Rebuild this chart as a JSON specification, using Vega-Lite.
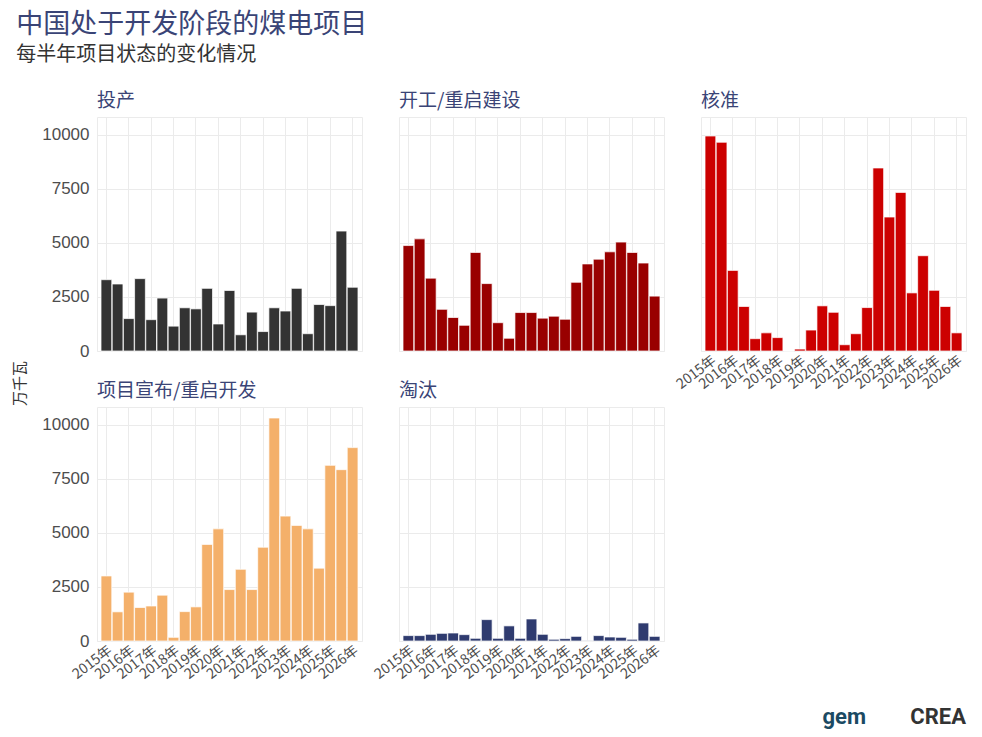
{
  "$schema": "https://vega.github.io/schema/vega-lite/v6.json",
  "description": "China coal power projects in development, half-yearly status changes",
  "padding": {"left": 12, "top": 10, "right": 16, "bottom": 4},
  "background": "white",
  "title": {
    "text": "中国处于开发阶段的煤电项目",
    "subtitle": "每半年项目状态的变化情况",
    "anchor": "start",
    "frame": "bounds",
    "dx": 4,
    "font": "Noto Sans CJK SC",
    "fontSize": 27,
    "fontWeight": "normal",
    "color": "#3a4476",
    "subtitleFont": "Noto Sans CJK SC",
    "subtitleFontSize": 20,
    "subtitleColor": "#333333",
    "subtitlePadding": 6,
    "offset": 26
  },
  "data": {
    "values": [
      {"period": "2015-H1", "status": "投产", "value": 3300},
      {"period": "2015-H2", "status": "投产", "value": 3100},
      {"period": "2016-H1", "status": "投产", "value": 1500},
      {"period": "2016-H2", "status": "投产", "value": 3350},
      {"period": "2017-H1", "status": "投产", "value": 1450},
      {"period": "2017-H2", "status": "投产", "value": 2450},
      {"period": "2018-H1", "status": "投产", "value": 1150},
      {"period": "2018-H2", "status": "投产", "value": 2000},
      {"period": "2019-H1", "status": "投产", "value": 1950},
      {"period": "2019-H2", "status": "投产", "value": 2900},
      {"period": "2020-H1", "status": "投产", "value": 1250},
      {"period": "2020-H2", "status": "投产", "value": 2800},
      {"period": "2021-H1", "status": "投产", "value": 750},
      {"period": "2021-H2", "status": "投产", "value": 1800},
      {"period": "2022-H1", "status": "投产", "value": 900},
      {"period": "2022-H2", "status": "投产", "value": 2000},
      {"period": "2023-H1", "status": "投产", "value": 1850},
      {"period": "2023-H2", "status": "投产", "value": 2900},
      {"period": "2024-H1", "status": "投产", "value": 800},
      {"period": "2024-H2", "status": "投产", "value": 2150},
      {"period": "2025-H1", "status": "投产", "value": 2100},
      {"period": "2025-H2", "status": "投产", "value": 5550},
      {"period": "2026-H1", "status": "投产", "value": 2950},

      {"period": "2015-H1", "status": "开工/重启建设", "value": 4880},
      {"period": "2015-H2", "status": "开工/重启建设", "value": 5190},
      {"period": "2016-H1", "status": "开工/重启建设", "value": 3370},
      {"period": "2016-H2", "status": "开工/重启建设", "value": 1930},
      {"period": "2017-H1", "status": "开工/重启建设", "value": 1550},
      {"period": "2017-H2", "status": "开工/重启建设", "value": 1190},
      {"period": "2018-H1", "status": "开工/重启建设", "value": 4560},
      {"period": "2018-H2", "status": "开工/重启建设", "value": 3120},
      {"period": "2019-H1", "status": "开工/重启建设", "value": 1310},
      {"period": "2019-H2", "status": "开工/重启建设", "value": 590},
      {"period": "2020-H1", "status": "开工/重启建设", "value": 1780},
      {"period": "2020-H2", "status": "开工/重启建设", "value": 1780},
      {"period": "2021-H1", "status": "开工/重启建设", "value": 1520},
      {"period": "2021-H2", "status": "开工/重启建设", "value": 1610},
      {"period": "2022-H1", "status": "开工/重启建设", "value": 1470},
      {"period": "2022-H2", "status": "开工/重启建设", "value": 3180},
      {"period": "2023-H1", "status": "开工/重启建设", "value": 4030},
      {"period": "2023-H2", "status": "开工/重启建设", "value": 4250},
      {"period": "2024-H1", "status": "开工/重启建设", "value": 4590},
      {"period": "2024-H2", "status": "开工/重启建设", "value": 5040},
      {"period": "2025-H1", "status": "开工/重启建设", "value": 4560},
      {"period": "2025-H2", "status": "开工/重启建设", "value": 4070},
      {"period": "2026-H1", "status": "开工/重启建设", "value": 2540},

      {"period": "2015-H1", "status": "核准", "value": 9950},
      {"period": "2015-H2", "status": "核准", "value": 9660},
      {"period": "2016-H1", "status": "核准", "value": 3730},
      {"period": "2016-H2", "status": "核准", "value": 2060},
      {"period": "2017-H1", "status": "核准", "value": 570},
      {"period": "2017-H2", "status": "核准", "value": 840},
      {"period": "2018-H1", "status": "核准", "value": 620},
      {"period": "2018-H2", "status": "核准", "value": 0},
      {"period": "2019-H1", "status": "核准", "value": 90},
      {"period": "2019-H2", "status": "核准", "value": 970},
      {"period": "2020-H1", "status": "核准", "value": 2090},
      {"period": "2020-H2", "status": "核准", "value": 1790},
      {"period": "2021-H1", "status": "核准", "value": 290},
      {"period": "2021-H2", "status": "核准", "value": 800},
      {"period": "2022-H1", "status": "核准", "value": 2010},
      {"period": "2022-H2", "status": "核准", "value": 8470},
      {"period": "2023-H1", "status": "核准", "value": 6200},
      {"period": "2023-H2", "status": "核准", "value": 7340},
      {"period": "2024-H1", "status": "核准", "value": 2690},
      {"period": "2024-H2", "status": "核准", "value": 4410},
      {"period": "2025-H1", "status": "核准", "value": 2810},
      {"period": "2025-H2", "status": "核准", "value": 2060},
      {"period": "2026-H1", "status": "核准", "value": 840},

      {"period": "2015-H1", "status": "项目宣布/重启开发", "value": 3010},
      {"period": "2015-H2", "status": "项目宣布/重启开发", "value": 1350},
      {"period": "2016-H1", "status": "项目宣布/重启开发", "value": 2260},
      {"period": "2016-H2", "status": "项目宣布/重启开发", "value": 1550},
      {"period": "2017-H1", "status": "项目宣布/重启开发", "value": 1620},
      {"period": "2017-H2", "status": "项目宣布/重启开发", "value": 2120},
      {"period": "2018-H1", "status": "项目宣布/重启开发", "value": 170},
      {"period": "2018-H2", "status": "项目宣布/重启开发", "value": 1360},
      {"period": "2019-H1", "status": "项目宣布/重启开发", "value": 1580},
      {"period": "2019-H2", "status": "项目宣布/重启开发", "value": 4470},
      {"period": "2020-H1", "status": "项目宣布/重启开发", "value": 5190},
      {"period": "2020-H2", "status": "项目宣布/重启开发", "value": 2380},
      {"period": "2021-H1", "status": "项目宣布/重启开发", "value": 3320},
      {"period": "2021-H2", "status": "项目宣布/重启开发", "value": 2380},
      {"period": "2022-H1", "status": "项目宣布/重启开发", "value": 4340},
      {"period": "2022-H2", "status": "项目宣布/重启开发", "value": 10320},
      {"period": "2023-H1", "status": "项目宣布/重启开发", "value": 5780},
      {"period": "2023-H2", "status": "项目宣布/重启开发", "value": 5350},
      {"period": "2024-H1", "status": "项目宣布/重启开发", "value": 5190},
      {"period": "2024-H2", "status": "项目宣布/重启开发", "value": 3370},
      {"period": "2025-H1", "status": "项目宣布/重启开发", "value": 8130},
      {"period": "2025-H2", "status": "项目宣布/重启开发", "value": 7930},
      {"period": "2026-H1", "status": "项目宣布/重启开发", "value": 8950},

      {"period": "2015-H1", "status": "淘汰", "value": 250},
      {"period": "2015-H2", "status": "淘汰", "value": 250},
      {"period": "2016-H1", "status": "淘汰", "value": 310},
      {"period": "2016-H2", "status": "淘汰", "value": 355},
      {"period": "2017-H1", "status": "淘汰", "value": 370},
      {"period": "2017-H2", "status": "淘汰", "value": 295},
      {"period": "2018-H1", "status": "淘汰", "value": 125},
      {"period": "2018-H2", "status": "淘汰", "value": 990},
      {"period": "2019-H1", "status": "淘汰", "value": 125},
      {"period": "2019-H2", "status": "淘汰", "value": 700},
      {"period": "2020-H1", "status": "淘汰", "value": 125},
      {"period": "2020-H2", "status": "淘汰", "value": 1020},
      {"period": "2021-H1", "status": "淘汰", "value": 310},
      {"period": "2021-H2", "status": "淘汰", "value": 80},
      {"period": "2022-H1", "status": "淘汰", "value": 110},
      {"period": "2022-H2", "status": "淘汰", "value": 215},
      {"period": "2023-H1", "status": "淘汰", "value": 15},
      {"period": "2023-H2", "status": "淘汰", "value": 250},
      {"period": "2024-H1", "status": "淘汰", "value": 185},
      {"period": "2024-H2", "status": "淘汰", "value": 170},
      {"period": "2025-H1", "status": "淘汰", "value": 80},
      {"period": "2025-H2", "status": "淘汰", "value": 835},
      {"period": "2026-H1", "status": "淘汰", "value": 215}
    ]
  },
  "columns": 3,
  "spacing": {"row": -26, "column": 8},
  "concat": [
    {
      "title": {"text": "投产"},
      "width": 265,
      "height": 234,
      "transform": [{"filter": "datum.status == '投产'"}],
      "mark": {"type": "bar", "color": "#333333", "stroke": "white", "strokeWidth": 1, "strokeOpacity": 0.7},
      "encoding": {
        "x": {
          "field": "period", "type": "ordinal", "sort": "ascending",
          "scale": {"paddingInner": 0.04, "paddingOuter": 0.36},
          "axis": {"title": null, "labels": false, "gridOpacity": {"condition": {"test": "slice(datum.value, 5) == 'H1'", "value": 1}, "value": 0}}
        },
        "y": {
          "field": "value", "type": "quantitative",
          "scale": {"domain": [0, 10830], "nice": false},
          "axis": {"title": "万千瓦", "titleY": 266, "format": "d", "values": [0, 2500, 5000, 7500, 10000]}
        }
      }
    },
    {
      "title": {"text": "开工/重启建设"},
      "width": 265,
      "height": 234,
      "transform": [{"filter": "datum.status == '开工/重启建设'"}],
      "mark": {"type": "bar", "color": "#990000", "stroke": "white", "strokeWidth": 1, "strokeOpacity": 0.7},
      "encoding": {
        "x": {
          "field": "period", "type": "ordinal", "sort": "ascending",
          "scale": {"paddingInner": 0.04, "paddingOuter": 0.36},
          "axis": {"title": null, "labels": false, "gridOpacity": {"condition": {"test": "slice(datum.value, 5) == 'H1'", "value": 1}, "value": 0}}
        },
        "y": {
          "field": "value", "type": "quantitative",
          "scale": {"domain": [0, 10830], "nice": false},
          "axis": {"title": null, "labels": false, "values": [0, 2500, 5000, 7500, 10000]}
        }
      }
    },
    {
      "title": {"text": "核准"},
      "width": 265,
      "height": 234,
      "transform": [{"filter": "datum.status == '核准'"}],
      "mark": {"type": "bar", "color": "#cc0000", "stroke": "white", "strokeWidth": 1, "strokeOpacity": 0.7},
      "encoding": {
        "x": {
          "field": "period", "type": "ordinal", "sort": "ascending",
          "scale": {"paddingInner": 0.04, "paddingOuter": 0.36},
          "axis": {
            "title": null,
            "labelExpr": "slice(datum.value, 5) == 'H1' ? slice(datum.value, 0, 4) + '年' : ''",
            "gridOpacity": {"condition": {"test": "slice(datum.value, 5) == 'H1'", "value": 1}, "value": 0}
          }
        },
        "y": {
          "field": "value", "type": "quantitative",
          "scale": {"domain": [0, 10830], "nice": false},
          "axis": {"title": null, "labels": false, "values": [0, 2500, 5000, 7500, 10000]}
        }
      }
    },
    {
      "title": {"text": "项目宣布/重启开发"},
      "width": 265,
      "height": 234,
      "transform": [{"filter": "datum.status == '项目宣布/重启开发'"}],
      "mark": {"type": "bar", "color": "#f4b06a", "stroke": "white", "strokeWidth": 1, "strokeOpacity": 0.7},
      "encoding": {
        "x": {
          "field": "period", "type": "ordinal", "sort": "ascending",
          "scale": {"paddingInner": 0.04, "paddingOuter": 0.36},
          "axis": {
            "title": null,
            "labelExpr": "slice(datum.value, 5) == 'H1' ? slice(datum.value, 0, 4) + '年' : ''",
            "gridOpacity": {"condition": {"test": "slice(datum.value, 5) == 'H1'", "value": 1}, "value": 0}
          }
        },
        "y": {
          "field": "value", "type": "quantitative",
          "scale": {"domain": [0, 10830], "nice": false},
          "axis": {"title": null, "format": "d", "values": [0, 2500, 5000, 7500, 10000]}
        }
      }
    },
    {
      "title": {"text": "淘汰"},
      "width": 265,
      "height": 234,
      "transform": [{"filter": "datum.status == '淘汰'"}],
      "mark": {"type": "bar", "color": "#2f3b6f", "stroke": "white", "strokeWidth": 1, "strokeOpacity": 0.7},
      "encoding": {
        "x": {
          "field": "period", "type": "ordinal", "sort": "ascending",
          "scale": {"paddingInner": 0.04, "paddingOuter": 0.36},
          "axis": {
            "title": null,
            "labelExpr": "slice(datum.value, 5) == 'H1' ? slice(datum.value, 0, 4) + '年' : ''",
            "gridOpacity": {"condition": {"test": "slice(datum.value, 5) == 'H1'", "value": 1}, "value": 0}
          }
        },
        "y": {
          "field": "value", "type": "quantitative",
          "scale": {"domain": [0, 10830], "nice": false},
          "axis": {"title": null, "labels": false, "values": [0, 2500, 5000, 7500, 10000]}
        }
      }
    },
    {
      "width": 265,
      "height": 310,
      "view": {"stroke": null},
      "data": {"values": [{"logo": "gem", "group": "logos"}, {"logo": "CREA", "group": "logos"}]},
      "mark": {"type": "text", "align": "right", "baseline": "middle", "fontWeight": "bold", "fontSize": 22, "font": "Roboto"},
      "encoding": {
        "x": {"field": "logo", "type": "ordinal", "sort": null, "scale": {"padding": 0.825, "align": 1}, "axis": null},
        "y": {"field": "group", "type": "ordinal", "scale": {"padding": 0, "align": 1}, "axis": null},
        "text": {"field": "logo"},
        "color": {"field": "logo", "type": "nominal", "scale": {"domain": ["gem", "CREA"], "range": ["#1b4a63", "#333333"]}, "legend": null}
      }
    }
  ],
  "resolve": {"scale": {"x": "independent", "y": "independent", "color": "independent"}},
  "config": {
    "view": {"stroke": "#ebebeb"},
    "font": "Noto Sans CJK SC",
    "title": {"anchor": "start", "frame": "group", "fontSize": 19, "fontWeight": "normal", "color": "#3a4476", "offset": 6, "font": "Noto Sans CJK SC"},
    "axis": {
      "ticks": false,
      "domain": false,
      "grid": true,
      "gridColor": "#ebebeb",
      "labelColor": "#4d4d4d",
      "titleColor": "#333333",
      "titleFont": "Noto Sans CJK SC",
      "titleFontSize": 15,
      "titleFontWeight": "normal"
    },
    "axisX": {
      "labelAngle": -37,
      "labelAlign": "right",
      "labelBaseline": "top",
      "labelFont": "Noto Sans CJK SC",
      "labelFontSize": 14,
      "labelPadding": 2,
      "labelOverlap": false
    },
    "axisY": {
      "labelFont": "Liberation Sans",
      "labelFontSize": 17,
      "labelPadding": 8,
      "titlePadding": 14
    }
  }
}
